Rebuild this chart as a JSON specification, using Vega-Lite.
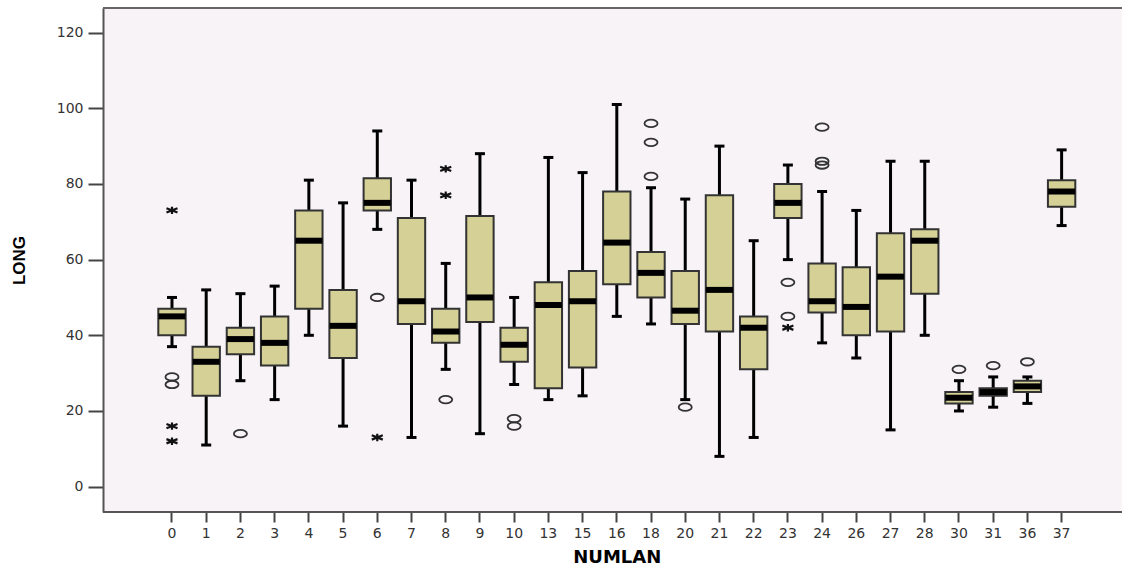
{
  "$schema": "https://vega.github.io/schema/vega-lite/v6.json",
  "width": 1019,
  "height": 504,
  "autosize": {"type": "none"},
  "padding": {"left": 103, "top": 8, "right": 0, "bottom": 56},
  "background": "white",
  "config": {
    "view": {"stroke": null, "fill": "#f7f3f7"},
    "axis": {
      "grid": false,
      "domainColor": "#555555",
      "domainWidth": 2,
      "tickColor": "#444444",
      "tickWidth": 2,
      "labelFont": "DejaVu Sans",
      "labelFontSize": 14,
      "labelColor": "#333333",
      "titleColor": "#000000",
      "titleFontWeight": "bold"
    }
  },
  "datasets": {
    "boxes": [
      {"NUMLAN": "0", "lo": 37, "q1": 40, "med": 45, "q3": 47, "hi": 50},
      {"NUMLAN": "1", "lo": 11, "q1": 24, "med": 33, "q3": 37, "hi": 52},
      {"NUMLAN": "2", "lo": 28, "q1": 35, "med": 39, "q3": 42, "hi": 51},
      {"NUMLAN": "3", "lo": 23, "q1": 32, "med": 38, "q3": 45, "hi": 53},
      {"NUMLAN": "4", "lo": 40, "q1": 47, "med": 65, "q3": 73, "hi": 81},
      {"NUMLAN": "5", "lo": 16, "q1": 34, "med": 42.5, "q3": 52, "hi": 75},
      {"NUMLAN": "6", "lo": 68, "q1": 73, "med": 75, "q3": 81.5, "hi": 94},
      {"NUMLAN": "7", "lo": 13, "q1": 43, "med": 49, "q3": 71, "hi": 81},
      {"NUMLAN": "8", "lo": 31, "q1": 38, "med": 41, "q3": 47, "hi": 59},
      {"NUMLAN": "9", "lo": 14, "q1": 43.5, "med": 50, "q3": 71.5, "hi": 88},
      {"NUMLAN": "10", "lo": 27, "q1": 33, "med": 37.5, "q3": 42, "hi": 50},
      {"NUMLAN": "13", "lo": 23, "q1": 26, "med": 48, "q3": 54, "hi": 87},
      {"NUMLAN": "15", "lo": 24, "q1": 31.5, "med": 49, "q3": 57, "hi": 83},
      {"NUMLAN": "16", "lo": 45, "q1": 53.5, "med": 64.5, "q3": 78, "hi": 101},
      {"NUMLAN": "18", "lo": 43, "q1": 50, "med": 56.5, "q3": 62, "hi": 79},
      {"NUMLAN": "20", "lo": 23, "q1": 43, "med": 46.5, "q3": 57, "hi": 76},
      {"NUMLAN": "21", "lo": 8, "q1": 41, "med": 52, "q3": 77, "hi": 90},
      {"NUMLAN": "22", "lo": 13, "q1": 31, "med": 42, "q3": 45, "hi": 65},
      {"NUMLAN": "23", "lo": 60, "q1": 71, "med": 75, "q3": 80, "hi": 85},
      {"NUMLAN": "24", "lo": 38, "q1": 46, "med": 49, "q3": 59, "hi": 78},
      {"NUMLAN": "26", "lo": 34, "q1": 40, "med": 47.5, "q3": 58, "hi": 73},
      {"NUMLAN": "27", "lo": 15, "q1": 41, "med": 55.5, "q3": 67, "hi": 86},
      {"NUMLAN": "28", "lo": 40, "q1": 51, "med": 65, "q3": 68, "hi": 86},
      {"NUMLAN": "30", "lo": 20, "q1": 22, "med": 23.5, "q3": 25, "hi": 28},
      {"NUMLAN": "31", "lo": 21, "q1": 24, "med": 25, "q3": 26, "hi": 29},
      {"NUMLAN": "36", "lo": 22, "q1": 25, "med": 26.5, "q3": 28, "hi": 29},
      {"NUMLAN": "37", "lo": 69, "q1": 74, "med": 78, "q3": 81, "hi": 89}
    ],
    "outliers": [
      {"NUMLAN": "0", "LONG": 29, "kind": "o"},
      {"NUMLAN": "0", "LONG": 27, "kind": "o"},
      {"NUMLAN": "0", "LONG": 73, "kind": "*"},
      {"NUMLAN": "0", "LONG": 16, "kind": "*"},
      {"NUMLAN": "0", "LONG": 12, "kind": "*"},
      {"NUMLAN": "2", "LONG": 14, "kind": "o"},
      {"NUMLAN": "6", "LONG": 50, "kind": "o"},
      {"NUMLAN": "6", "LONG": 13, "kind": "*"},
      {"NUMLAN": "8", "LONG": 84, "kind": "*"},
      {"NUMLAN": "8", "LONG": 77, "kind": "*"},
      {"NUMLAN": "8", "LONG": 23, "kind": "o"},
      {"NUMLAN": "10", "LONG": 18, "kind": "o"},
      {"NUMLAN": "10", "LONG": 16, "kind": "o"},
      {"NUMLAN": "18", "LONG": 96, "kind": "o"},
      {"NUMLAN": "18", "LONG": 91, "kind": "o"},
      {"NUMLAN": "18", "LONG": 82, "kind": "o"},
      {"NUMLAN": "20", "LONG": 21, "kind": "o"},
      {"NUMLAN": "23", "LONG": 54, "kind": "o"},
      {"NUMLAN": "23", "LONG": 45, "kind": "o"},
      {"NUMLAN": "23", "LONG": 42, "kind": "*"},
      {"NUMLAN": "24", "LONG": 95, "kind": "o"},
      {"NUMLAN": "24", "LONG": 86, "kind": "o"},
      {"NUMLAN": "24", "LONG": 85, "kind": "o"},
      {"NUMLAN": "30", "LONG": 31, "kind": "o"},
      {"NUMLAN": "31", "LONG": 32, "kind": "o"},
      {"NUMLAN": "36", "LONG": 33, "kind": "o"}
    ]
  },
  "layer": [
    {
      "encoding": {
        "x": {
          "field": "NUMLAN",
          "type": "ordinal",
          "title": "NUMLAN",
          "scale": {
            "domain": ["0","1","2","3","4","5","6","7","8","9","10","13","15","16","18","20","21","22","23","24","26","27","28","30","31","36","37"],
            "range": [55.3, 972.3],
            "paddingInner": 0.2,
            "paddingOuter": 0,
            "round": false
          },
          "axis": {
            "labelAngle": 0,
            "domain": false,
            "tickSize": 10,
            "labelPadding": 4,
            "titleFont": "DejaVu Sans",
            "titleFontSize": 18,
            "titlePadding": 8
          }
        }
      },
      "layer": [
        {
          "data": {"name": "boxes"},
          "mark": {"type": "rule", "color": "#000000", "strokeWidth": 3, "opacity": 1},
          "encoding": {
            "y": {
              "field": "lo",
              "type": "quantitative",
              "title": "LONG",
              "scale": {"domain": [-6.7, 126.5], "nice": false, "zero": false},
              "axis": {
                "values": [0, 20, 40, 60, 80, 100, 120],
                "tickSize": 15,
                "labelPadding": 5,
                "titleFont": "Liberation Sans",
                "titleFontSize": 17,
                "titlePadding": 28
              }
            },
            "y2": {"field": "hi"}
          }
        },
        {
          "data": {"name": "boxes"},
          "mark": {"type": "tick", "color": "#000000", "size": 10, "thickness": 3, "opacity": 1},
          "encoding": {"y": {"field": "lo", "type": "quantitative", "title": "LONG"}}
        },
        {
          "data": {"name": "boxes"},
          "mark": {"type": "tick", "color": "#000000", "size": 10, "thickness": 3, "opacity": 1},
          "encoding": {"y": {"field": "hi", "type": "quantitative", "title": "LONG"}}
        },
        {
          "data": {"name": "boxes"},
          "mark": {"type": "bar", "fill": "#d5d095", "stroke": "#333333", "strokeWidth": 2, "opacity": 1},
          "encoding": {
            "y": {"field": "q1", "type": "quantitative", "title": "LONG"},
            "y2": {"field": "q3"}
          }
        },
        {
          "data": {"name": "boxes"},
          "mark": {"type": "tick", "color": "#000000", "size": 27, "thickness": 6, "opacity": 1},
          "encoding": {"y": {"field": "med", "type": "quantitative", "title": "LONG"}}
        },
        {
          "data": {"name": "outliers"},
          "transform": [{"filter": "datum.kind === 'o'"}],
          "mark": {
            "type": "point",
            "shape": "M-1,0A1,0.57 0 1,1 1,0A1,0.57 0 1,1 -1,0Z",
            "filled": false,
            "stroke": "#333333",
            "strokeWidth": 1.8,
            "size": 170,
            "opacity": 1
          },
          "encoding": {"y": {"field": "LONG", "type": "quantitative", "title": "LONG"}}
        },
        {
          "data": {"name": "outliers"},
          "transform": [{"filter": "datum.kind === '*'"}],
          "mark": {
            "type": "point",
            "shape": "M0,-0.6L0,0.6M-0.9,-0.35L0.9,0.35M-0.9,0.35L0.9,-0.35",
            "filled": false,
            "stroke": "#111111",
            "strokeWidth": 2.2,
            "size": 150,
            "opacity": 1
          },
          "encoding": {"y": {"field": "LONG", "type": "quantitative", "title": "LONG"}}
        }
      ]
    },
    {
      "data": {"values": [{}]},
      "mark": {"type": "rule", "color": "#666666", "strokeWidth": 2},
      "encoding": {"y": {"datum": 126.5}}
    },
    {
      "data": {"values": [{}]},
      "mark": {"type": "rule", "color": "#555555", "strokeWidth": 2},
      "encoding": {"y": {"datum": -6.7}}
    }
  ]
}
